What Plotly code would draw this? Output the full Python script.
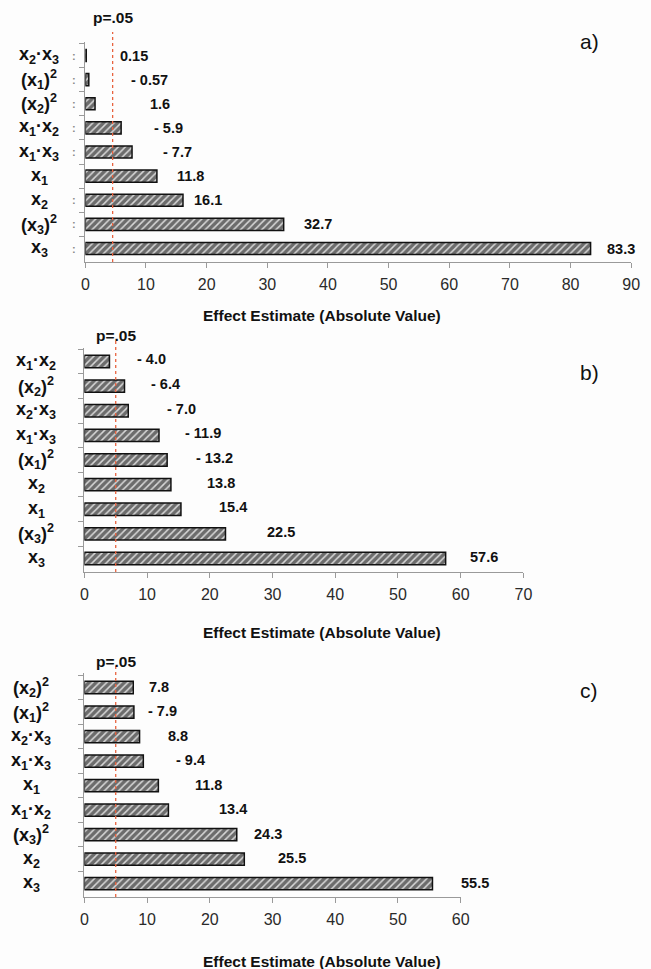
import plotly.graph_objects as go

# ---------------- data ----------------
terms_a = ["x2x3", "x1^2", "x2^2", "x1x2", "x1x3", "x1", "x2", "x3^2", "x3"]
vals_a = [0.15, 0.57, 1.6, 5.9, 7.7, 11.8, 16.1, 32.7, 83.3]
text_a = ["0.15", "- 0.57", "1.6", "- 5.9", "- 7.7", "11.8", "16.1", "32.7", "83.3"]

terms_b = ["x1x2", "x2^2", "x2x3", "x1x3", "x1^2", "x2", "x1", "x3^2", "x3"]
vals_b = [4.0, 6.4, 7.0, 11.9, 13.2, 13.8, 15.4, 22.5, 57.6]
text_b = ["- 4.0", "- 6.4", "- 7.0", "- 11.9", "- 13.2", "13.8", "15.4", "22.5", "57.6"]

terms_c = ["x2^2", "x1^2", "x2x3", "x1x3", "x1", "x1x2", "x3^2", "x2", "x3"]
vals_c = [7.8, 7.9, 8.8, 9.4, 11.8, 13.4, 24.3, 25.5, 55.5]
text_c = ["7.8", "- 7.9", "8.8", "- 9.4", "11.8", "13.4", "24.3", "25.5", "55.5"]

p_crit = [4.5, 5.0, 5.0]
x_max = [90, 70, 60]
panel_names = ["a)", "b)", "c)"]
axis_title = "Effect Estimate (Absolute Value)"

term_html = {
    "x1": "x<sub>1</sub>", "x2": "x<sub>2</sub>", "x3": "x<sub>3</sub>",
    "x1x2": "x<sub>1</sub>·x<sub>2</sub>", "x1x3": "x<sub>1</sub>·x<sub>3</sub>",
    "x2x3": "x<sub>2</sub>·x<sub>3</sub>",
    "x1^2": "(x<sub>1</sub>)<sup>2</sup>", "x2^2": "(x<sub>2</sub>)<sup>2</sup>",
    "x3^2": "(x<sub>3</sub>)<sup>2</sup>",
}

# ---------------- style / layout ----------------
W, H = 651, 969
FONT = "Liberation Sans, Arial, sans-serif"
# label gaps (px) between bar end and value text, per panel
gap_a = [34, 42, 55, 33, 31, 20, 11, 20, 16]
gap_b = [28, 26, 39, 26, 29, 36, 38, 42, 24]
gap_c = [16, 14, 28, 33, 37, 51, 17, 34, 29]

panels = [
    dict(terms=terms_a, vals=vals_a, text=text_a, gaps=gap_a,
         x0=83, x1=640, ytop=42, ybot=262, lab_cx=36, p_y=17, name_y=41, title_y=315, yshift=0),
    dict(terms=terms_b, vals=vals_b, text=text_b, gaps=gap_b,
         x0=82, x1=530, ytop=348, ybot=572, lab_cx=33, p_y=335, name_y=372, title_y=632, yshift=2),
    dict(terms=terms_c, vals=vals_c, text=text_c, gaps=gap_c,
         x0=82, x1=466, ytop=673, ybot=897, lab_cx=28, p_y=661, name_y=690, title_y=961, yshift=1),
]
dot_rows_a = [True, True, True, True, True, False, True, True, True]

fig = go.Figure()
annotations = []
shapes = []

for i, p in enumerate(panels):
    k = "" if i == 0 else str(i + 1)
    xa, ya = "x" + k, "y" + k
    fig.add_trace(go.Bar(
        x=p["vals"], y=p["terms"], orientation="h", xaxis=xa, yaxis=ya,
        width=0.5,
        marker=dict(color="#222", line=dict(color="#111", width=1.5),
                    pattern=dict(shape="/", fgcolor="#000000", bgcolor="#d8d8d8",
                                 size=5, solidity=0.7)),
        showlegend=False, hoverinfo="skip",
    ))
    fig.update_layout(**{
        "xaxis" + k: dict(domain=[p["x0"] / W, p["x1"] / W], anchor=ya,
                          range=[0, x_max[i]], dtick=10, showgrid=False, zeroline=False,
                          showline=True, linecolor="#9a9a9a", linewidth=1.2,
                          ticks="outside", ticklen=5, tickcolor="#9a9a9a",
                          ticklabelstandoff=3,
                          tickfont=dict(family=FONT, size=16, color="#2a2a2a")),
        "yaxis" + k: dict(domain=[1 - p["ybot"] / H, 1 - p["ytop"] / H], anchor=xa,
                          autorange="reversed", showgrid=False, zeroline=False,
                          showline=True, linecolor="#9a9a9a", linewidth=1.2,
                          ticks="outside", ticklen=5, tickcolor="#9a9a9a",
                          tickson="boundaries", showticklabels=False),
    })
    # category labels (centered)
    for t in p["terms"]:
        annotations.append(dict(xref="paper", yref=ya, x=p["lab_cx"] / W, y=t,
                                text="<b>" + term_html[t] + "</b>", showarrow=False,
                                xanchor="center", yanchor="middle",
                                font=dict(family=FONT, size=18, color="#111")))
    # value labels
    for t, v, s, g in zip(p["terms"], p["vals"], p["text"], p["gaps"]):
        annotations.append(dict(xref=xa, yref=ya, x=v, y=t, text="<b>" + s + "</b>",
                                showarrow=False, xanchor="left", yanchor="middle",
                                xshift=g - 2, yshift=p["yshift"],
                                font=dict(family=FONT, size=14.5, color="#111")))
    # p=.05 line and label
    shapes.append(dict(type="line", xref=xa, yref=ya + " domain",
                       x0=p_crit[i], x1=p_crit[i], y0=0, y1=1.045,
                       line=dict(color="#e8623e", width=1.3, dash="dot")))
    annotations.append(dict(xref=xa, yref="paper", x=p_crit[i], y=1 - p["p_y"] / H,
                            text="<b>p=.05</b>", showarrow=False, xanchor="center",
                            yanchor="middle", font=dict(family=FONT, size=15.5, color="#111")))
    # panel letter
    annotations.append(dict(xref="paper", yref="paper", x=597 / W, y=1 - p["name_y"] / H,
                            text=panel_names[i], showarrow=False, xanchor="center",
                            yanchor="middle", font=dict(family=FONT, size=21, color="#111")))
    # axis title
    annotations.append(dict(xref="paper", yref="paper", x=324 / W, y=1 - p["title_y"] / H,
                            text="<b>" + axis_title + "</b>", showarrow=False,
                            xanchor="center", yanchor="middle",
                            font=dict(family=FONT, size=15.5, color="#111")))

# faint marks beside panel a's axis
for t, show in zip(terms_a, dot_rows_a):
    if show:
        annotations.append(dict(xref="paper", yref="y", x=71 / W, y=t, text="<b>:</b>",
                                showarrow=False, xanchor="center", yanchor="middle",
                                font=dict(family=FONT, size=11, color="#8a8a8a")))

fig.update_layout(
    width=W, height=H, margin=dict(l=0, r=0, t=0, b=0),
    paper_bgcolor="#fdfdfd", plot_bgcolor="#fdfdfd",
    annotations=annotations, shapes=shapes, bargap=0.5,
)

fig.write_html(
    "out.html",
    config={"displayModeBar": False},
    post_script="document.body.style.margin='0';document.body.style.overflow='hidden';",
)
